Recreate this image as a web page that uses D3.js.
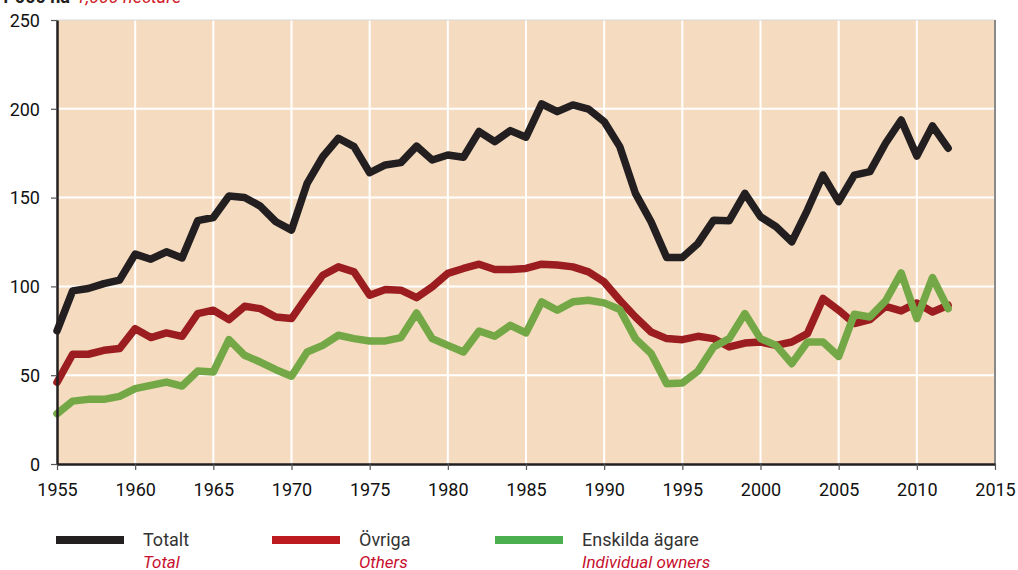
<!DOCTYPE html>
<html>
<head>
<meta charset="utf-8">
<script src="https://cdn.jsdelivr.net/npm/d3@7"></script>
<style>
  body { margin: 0; background: #fff; }
  svg { display: block; font-family: Roboto, "Open Sans", sans-serif; }
</style>
</head>
<body>
<div id="chart"></div>
<script>
const years = d3.range(1955, 2013);
const totalt = [75, 97.5, 98.8, 101.6, 103.5, 118.2, 115.3, 119.5, 116, 137, 138.8, 150.9, 150.1, 145.2, 136.4, 131.7, 158, 173, 183.4, 178.7, 164,
  168.4, 169.7, 179, 171.2, 174, 172.7, 187.2, 181.5, 187.7, 184, 202.8, 198.4, 202.2, 199.8, 192.8, 178.7, 152.4, 136.4, 116.3, 116.3,
  124.2, 137.3, 137, 152.4, 139.2, 133.6, 125.1, 143, 162.7, 147.7, 162.7, 164.6, 180.6, 193.7, 173.4, 190.4, 177.8];
const ovriga = [46, 61.8, 61.8, 64, 65, 76.2, 71.2, 73.8, 71.9, 84.7, 86.6, 81.3, 88.8, 87.5, 82.8, 81.9, 94.5, 106.3, 111, 108.2, 95,
  98.2, 97.9, 93.7, 99.7, 107.3, 110.1, 112.5, 109.5, 109.5, 110.1, 112.5, 112, 111, 108.2, 102.5, 92.2, 82.8, 74.3, 70.6, 70,
  71.9, 70.6, 65.9, 68.1, 68.7, 66.8, 68.7, 73.4, 93.2, 86.6, 79.1, 81.3, 88.8, 86.2, 90.7, 85.6, 89.4];
const enskilda = [28.3, 35.4, 36.4, 36.4, 38.1, 42.4, 44.3, 46.1, 43.9, 52.3, 51.8, 70, 61.2, 57.4, 53.1, 49.4, 63.1, 66.8, 72.5, 70.6, 69.3,
  69.3, 71.2, 85, 70.6, 66.8, 63.1, 74.9, 71.9, 78.1, 73.8, 91.3, 86.6, 91.3, 92.2, 90.7, 87, 70.6, 62.2, 45.2, 45.6,
  52.3, 65.9, 70.6, 84.7, 70.6, 66.8, 56.5, 68.7, 68.7, 60.6, 84.3, 82.8, 91.8, 107.6, 81.9, 105, 87.5];

const xTicks = d3.range(1955, 2016, 5);
const yTicks = [0, 50, 100, 150, 200, 250];

const seriesNames = ["Totalt", "Övriga", "Enskilda ägare"];
const seriesNamesEn = ["Total", "Others", "Individual owners"];

const width = 1018, height = 570;
const margin = { top: 20, left: 57, right: 23, bottom: 106 };
const innerW = width - margin.left - margin.right;
const innerH = height - margin.top - margin.bottom;

const svg = d3.select("#chart").append("svg")
    .attr("width", width)
    .attr("height", height);

// unit header, cut off at the top like in the original
svg.append("text")
    .attr("x", 0).attr("y", 3)
    .style("font-size", "18px").style("font-weight", "bold").style("fill", "#231f20")
    .text("1 000 ha")
  .append("tspan")
    .attr("dx", 6)
    .style("font-weight", "normal").style("font-style", "italic").style("fill", "#d0202a")
    .text("1,000 hectare");

const g = svg.append("g").attr("transform", `translate(${margin.left},${margin.top})`);

const x = d3.scaleLinear().domain([1955, 2015]).range([0, innerW]);
const y = d3.scaleLinear().domain([0, 250]).range([innerH, 0]);

g.append("rect")
    .attr("width", innerW).attr("height", innerH)
    .attr("fill", "#f5dcc0");

// grid
g.selectAll(".vgrid")
    .data(xTicks.slice(1, -1))
    .enter().append("line")
    .attr("x1", d => x(d)).attr("x2", d => x(d))
    .attr("y1", 0).attr("y2", innerH)
    .attr("stroke", "#fff").attr("stroke-width", 2);

g.selectAll(".hgrid")
    .data(yTicks.slice(1, -1))
    .enter().append("line")
    .attr("x1", 0).attr("x2", innerW)
    .attr("y1", d => y(d)).attr("y2", d => y(d))
    .attr("stroke", "#fff").attr("stroke-width", 2);

// frame: light top, grey right
g.append("line").attr("x1", 0).attr("x2", innerW).attr("y1", 0).attr("y2", 0)
    .attr("stroke", "#d8d8d8").attr("stroke-width", 1);
g.append("line").attr("x1", innerW).attr("x2", innerW).attr("y1", 0).attr("y2", innerH)
    .attr("stroke", "#8a8a8a").attr("stroke-width", 2);

// lines
const colors = ["#231f20", "#9b1d20", "#74a846"];
const series = [totalt, ovriga, enskilda];
const line = d3.line()
    .x((d, i) => x(years[i]))
    .y(d => y(d));

g.selectAll(".series")
    .data(series)
    .enter().append("path")
    .attr("d", line)
    .attr("fill", "none")
    .attr("stroke", (d, i) => colors[i])
    .attr("stroke-width", 7.5)
    .attr("stroke-linejoin", "round")
    .attr("stroke-linecap", "round");

// axes
const xAxis = g.append("g")
    .attr("transform", `translate(0,${innerH})`)
    .call(d3.axisBottom(x).tickValues(xTicks).tickFormat(d3.format("d")).tickSize(6).tickSizeOuter(0));
const yAxis = g.append("g")
    .call(d3.axisLeft(y).tickValues(yTicks).tickSize(6).tickSizeOuter(0));

[xAxis, yAxis].forEach(a => {
  a.select(".domain").attr("stroke", "#231f20").attr("stroke-width", 2.5);
  a.selectAll(".tick line").attr("stroke", "#555").attr("stroke-width", 1.2);
  a.selectAll("text").style("font-size", "18px").style("fill", "#111")
      .style("font-family", "Roboto, sans-serif");
});
xAxis.selectAll("text").attr("dy", "0").attr("y", 32);
yAxis.selectAll("text").attr("x", -17).attr("dy", "0.35em");

// legend
const legendX = [56, 272, 495];
const legendColors = ["#231f20", "#bd1a20", "#4caf4f"];
const legend = svg.selectAll(".legend")
    .data(seriesNames)
    .enter().append("g")
    .attr("transform", (d, i) => `translate(${legendX[i]},540)`);

legend.append("rect")
    .attr("x", 0).attr("y", -4)
    .attr("width", 68).attr("height", 8)
    .attr("fill", (d, i) => legendColors[i]);

legend.append("text")
    .attr("x", 87).attr("y", 6)
    .style("font-size", "18px").style("fill", "#333")
    .text(d => d);

legend.append("text")
    .attr("x", 87).attr("y", 28)
    .style("font-size", "17px").style("font-style", "italic").style("fill", "#c8102e")
    .text((d, i) => seriesNamesEn[i]);
</script>
</body>
</html>
